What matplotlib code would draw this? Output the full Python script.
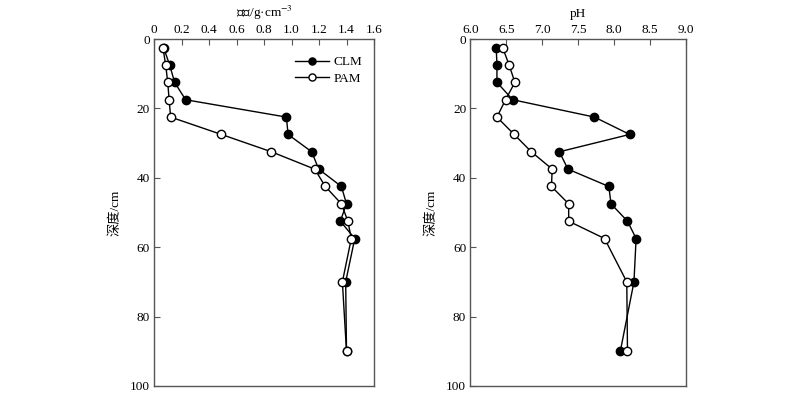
import matplotlib
matplotlib.use("Agg")
import matplotlib.pyplot as plt

plt.rcParams['font.family'] = ['Liberation Serif', 'Noto Sans CJK SC']
plt.rcParams['mathtext.fontset'] = 'stix'

depth = [2.5, 7.5, 12.5, 17.5, 22.5, 27.5, 32.5, 37.5, 42.5, 47.5, 52.5, 57.5, 70, 90]
bd_clm = [0.07, 0.114, 0.15, 0.23, 0.963, 0.975, 1.147, 1.198, 1.363, 1.40, 1.355, 1.46, 1.394, 1.40]
bd_pam = [0.065, 0.085, 0.10, 0.11, 0.121, 0.49, 0.854, 1.169, 1.246, 1.363, 1.41, 1.435, 1.37, 1.40]
ph_clm = [6.36, 6.37, 6.37, 6.59, 7.73, 8.22, 7.24, 7.36, 7.93, 7.96, 8.19, 8.31, 8.28, 8.09]
ph_pam = [6.45, 6.54, 6.62, 6.49, 6.37, 6.61, 6.85, 7.14, 7.13, 7.37, 7.37, 7.87, 8.18, 8.19]

bd_ticks = [0, 0.2, 0.4, 0.6, 0.8, 1.0, 1.2, 1.4, 1.6]
bd_labels = ['0', '0.2', '0.4', '0.6', '0.8', '1.0', '1.2', '1.4', '1.6']
ph_ticks = [6.0, 6.5, 7.0, 7.5, 8.0, 8.5, 9.0]
ph_labels = ['6.0', '6.5', '7.0', '7.5', '8.0', '8.5', '9.0']
depth_ticks = [0, 20, 40, 60, 80, 100]

fig = plt.figure(figsize=(8, 3.95), dpi=100)
ax1 = fig.add_axes([0.1925, 0.0228, 0.275, 0.8784])
ax2 = fig.add_axes([0.588, 0.0228, 0.269, 0.8784])

frame_c = '#555555'
def style(ax, xticks, xlabels, xlim, xlabel):
    ax.set_ylim(100, 0)
    ax.set_xlim(*xlim)
    ax.set_xticks(xticks)
    ax.set_xticklabels(xlabels)
    ax.set_yticks(depth_ticks)
    ax.xaxis.tick_top()
    ax.xaxis.set_label_position('top')
    ax.tick_params(direction='in', length=4, width=0.8, color=frame_c, labelsize=9.5, pad=3)
    ax.tick_params(axis='x', top=True, bottom=False, pad=2)
    ax.tick_params(axis='y', left=True, right=False)
    for s in ax.spines.values():
        s.set_color(frame_c)
        s.set_linewidth(1.0)
    ax.set_xlabel(xlabel, fontsize=9.5, labelpad=5)
    ax.set_ylabel('深度/cm', fontsize=9.5, labelpad=6)

mk = dict(markersize=6, linewidth=1.0, markeredgewidth=1.0)
ax1.plot(bd_clm, depth, '-o', color='black', markerfacecolor='black', label='CLM', zorder=3, **mk)
ax1.plot(bd_pam, depth, '-o', color='black', markerfacecolor='white', label='PAM', zorder=4, **mk)
ax2.plot(ph_clm, depth, '-o', color='black', markerfacecolor='black', label='CLM', zorder=3, **mk)
ax2.plot(ph_pam, depth, '-o', color='black', markerfacecolor='white', label='PAM', zorder=4, **mk)

style(ax1, bd_ticks, bd_labels, (0, 1.6), '容重/g·cm$^{-3}$')
style(ax2, ph_ticks, ph_labels, (6.0, 9.0), 'pH')

leg = ax1.legend(loc='upper right', frameon=False, fontsize=9.5, markerscale=0.85,
                 handlelength=2.6, handletextpad=0.3, labelspacing=0.3,
                 bbox_to_anchor=(1.0, 0.985))

fig.savefig('out.png', dpi=100)
